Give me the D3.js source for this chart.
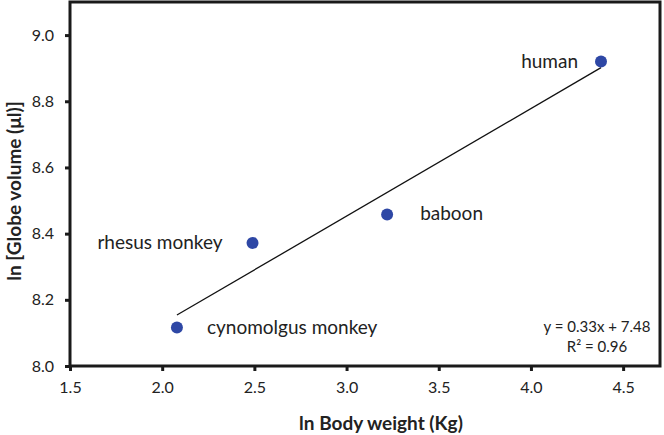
<!DOCTYPE html>
<html lang="en">
<head>
    <meta charset="UTF-8">
    <title>Globe volume vs body weight</title>
    <style>
        body { margin: 0; background: #fff; }
        svg { display: block; font-family: Lato, "Open Sans", sans-serif; }
    </style>
</head>
<body>
    <div id="graphic"></div>

    <script src="https://cdn.jsdelivr.net/npm/d3@7"></script>
    <script>
            var width = 664;
            var height = 435;

            // data
            var species = ['cynomolgus monkey', 'rhesus monkey', 'baboon', 'human'];
            var lnBodyWeight = [2.08, 2.49, 3.22, 4.38];
            var lnGlobeVolume = [8.116, 8.372, 8.458, 8.92];
            var xTicks = [1.5, 2.0, 2.5, 3.0, 3.5, 4.0, 4.5];
            var yTicks = [8.0, 8.2, 8.4, 8.6, 8.8, 9.0];
            var fitSlope = 0.325;
            var fitIntercept = 7.478;
            var fitText = ['y = 0.33x + 7.48', 'R² = 0.96'];

            var margin = {left: 70, right: 4, top: 2, bottom: 69};

            var x = d3.scaleLinear().domain([1.5, 4.7]).range([margin.left, width - margin.right]);
            var y = d3.scaleLinear().domain([8.0, 9.1]).range([height - margin.bottom, margin.top]);

            var svg = d3.select('#graphic')
                .append('svg')
                .attr('width', width)
                .attr('height', height);

            var points = species.map(function(s, i) {
                return {name: s, x: lnBodyWeight[i], y: lnGlobeVolume[i]};
            });

            // trend line across the data range
            var x0 = d3.min(lnBodyWeight), x1 = d3.max(lnBodyWeight);
            svg.append('line')
                .attr('x1', x(x0)).attr('y1', y(fitSlope * x0 + fitIntercept))
                .attr('x2', x(x1)).attr('y2', y(fitSlope * x1 + fitIntercept))
                .attr('stroke', '#111')
                .attr('stroke-width', 1.3);

            svg.selectAll('.dot')
                .data(points)
                .join('circle')
                .attr('class', 'dot')
                .attr('cx', function(d) { return x(d.x) })
                .attr('cy', function(d) { return y(d.y) })
                .attr('r', 6)
                .attr('fill', '#2e47a5');

            // label offset from the dot (negative = text to the left)
            var labelOffset = {'cynomolgus monkey': 30, 'rhesus monkey': -30, 'baboon': 33, 'human': -23};
            svg.selectAll('.lbl')
                .data(points)
                .join('text')
                .attr('class', 'lbl')
                .attr('x', function(d) { return x(d.x) + labelOffset[d.name] })
                .attr('y', function(d) { return y(d.y) + 6 })
                .attr('text-anchor', function(d) { return labelOffset[d.name] > 0 ? 'start' : 'end' })
                .attr('font-size', 19)
                .attr('fill', '#222')
                .text(function(d) { return d.name });

            var xAxis = svg.append('g')
                .attr('transform', 'translate(0,' + (height - margin.bottom) + ')')
                .call(d3.axisBottom(x).tickValues(xTicks).tickSize(5).tickSizeOuter(0).tickFormat(d3.format('.1f')));
            var yAxis = svg.append('g')
                .attr('transform', 'translate(' + margin.left + ',0)')
                .call(d3.axisLeft(y).tickValues(yTicks).tickSize(5).tickSizeOuter(0).tickFormat(d3.format('.1f')));

            [xAxis, yAxis].forEach(function(g) {
                g.select('.domain').remove();
                g.selectAll('.tick line').attr('stroke', '#1a1a1a').attr('stroke-width', 3);
                g.selectAll('.tick text').attr('fill', '#222').attr('font-size', 16).attr('font-family', 'Lato');
            });
            xAxis.selectAll('.tick text').attr('dy', '1.2em');
            yAxis.selectAll('.tick text').attr('dx', '-0.5em');

            // plot frame
            svg.append('rect')
                .attr('x', x(1.5)).attr('y', y(9.1))
                .attr('width', x(4.7) - x(1.5)).attr('height', y(8.0) - y(9.1))
                .attr('fill', 'none')
                .attr('stroke', '#1a1a1a')
                .attr('stroke-width', 3);

            svg.append('text')
                .attr('text-anchor', 'middle')
                .attr('font-size', 15)
                .attr('fill', '#222')
                .selectAll('tspan')
                .data(fitText)
                .join('tspan')
                .attr('x', 597)
                .attr('y', function(d, i) { return 332 + i * 20 })
                .text(function(d) { return d });

            svg.append('text')
                .attr('x', 381).attr('y', 430)
                .attr('text-anchor', 'middle')
                .attr('font-size', 19)
                .attr('font-weight', 'bold')
                .attr('fill', '#222')
                .text('ln Body weight (Kg)');

            svg.append('text')
                .attr('transform', 'translate(21,191) rotate(-90)')
                .attr('text-anchor', 'middle')
                .attr('font-size', 19)
                .attr('font-weight', 'bold')
                .attr('fill', '#222')
                .text('ln [Globe volume (μl)]');
    </script>
</body>
</html>
